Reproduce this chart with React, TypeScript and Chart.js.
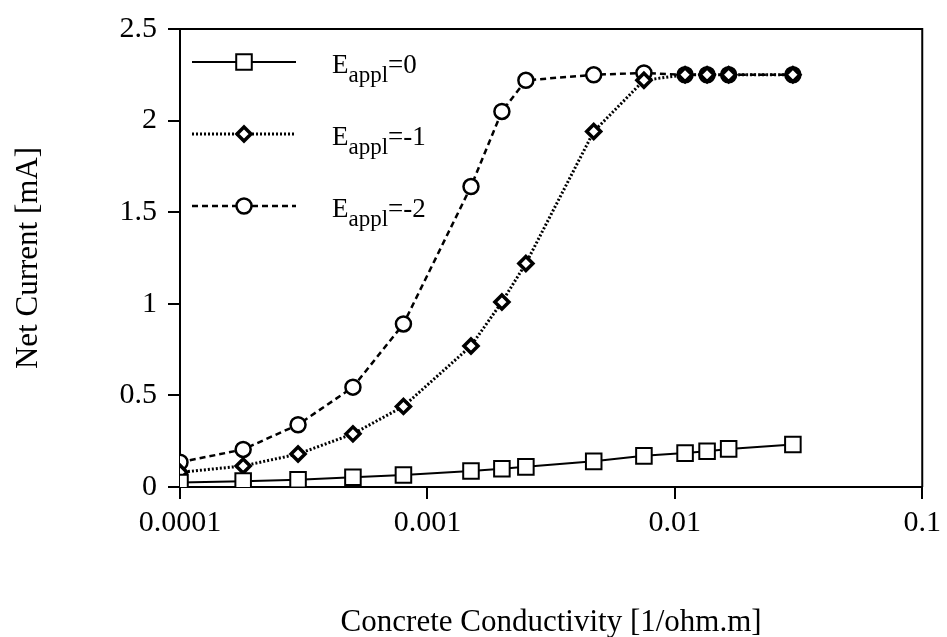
import React, { useEffect, useRef } from 'react';
import { Chart, registerables } from 'chart.js';

Chart.register(...registerables);

// ---- data ----
const conductivity = [0.0001, 0.00018, 0.0003, 0.0005, 0.0008, 0.0015, 0.002, 0.0025, 0.0047, 0.0075, 0.011, 0.0135, 0.0165, 0.03];
const currentE0 = [0.025, 0.032, 0.04, 0.053, 0.065, 0.087, 0.1, 0.11, 0.14, 0.17, 0.185, 0.195, 0.208, 0.232];
const currentEm1 = [0.08, 0.115, 0.18, 0.29, 0.44, 0.77, 1.01, 1.22, 1.94, 2.22, 2.25, 2.25, 2.25, 2.25];
const currentEm2 = [0.135, 0.205, 0.34, 0.545, 0.89, 1.64, 2.05, 2.22, 2.25, 2.26, 2.25, 2.25, 2.25, 2.25];

const xTickValues = [0.0001, 0.001, 0.01, 0.1];
const xTickLabels = ['0.0001', '0.001', '0.01', '0.1'];
const yTickValues = [0, 0.5, 1, 1.5, 2, 2.5];
const yTickLabels = ['0', '0.5', '1', '1.5', '2', '2.5'];

const legendMain = 'E';
const legendSub = 'appl';
const legendValues = ['=0', '=-1', '=-2'];

const xTitle = 'Concrete Conductivity [1/ohm.m]';
const yTitle = 'Net Current [mA]';

const SERIF = '"Liberation Serif", "Times New Roman", serif';

function drawMarker(ctx: CanvasRenderingContext2D, style: string, x: number, y: number, r: number, bw: number) {
  ctx.beginPath();
  if (style === 'rect') {
    const s = r * Math.SQRT1_2;
    ctx.rect(x - s, y - s, 2 * s, 2 * s);
  } else if (style === 'rectRot') {
    ctx.moveTo(x, y - r);
    ctx.lineTo(x + r, y);
    ctx.lineTo(x, y + r);
    ctx.lineTo(x - r, y);
    ctx.closePath();
  } else {
    ctx.arc(x, y, r, 0, Math.PI * 2);
  }
  ctx.fillStyle = '#fff';
  ctx.fill();
  ctx.lineWidth = bw;
  ctx.strokeStyle = '#000';
  ctx.stroke();
}

const framePlugin = {
  id: 'frame',
  afterDatasetsDraw(chart: any) {
    const { ctx, chartArea: a } = chart;
    ctx.save();
    ctx.strokeStyle = '#000';
    ctx.lineWidth = 2;
    ctx.beginPath();
    ctx.moveTo(a.left, a.top);
    ctx.lineTo(a.right, a.top);
    ctx.lineTo(a.right, a.bottom);
    ctx.stroke();
    ctx.restore();
  },
};

const legendPlugin = {
  id: 'insetLegend',
  afterDraw(chart: any) {
    const { ctx, chartArea: a } = chart;
    chart.data.datasets.forEach((ds: any, i: number) => {
      const y = a.top + 33 + i * 72;
      const x1 = a.left + 12;
      const x2 = a.left + 116;
      const xm = (x1 + x2) / 2;
      ctx.save();
      ctx.strokeStyle = '#000';
      ctx.lineWidth = ds.borderWidth;
      ctx.lineCap = 'butt';
      ctx.setLineDash(ds.borderDash || []);
      ctx.beginPath();
      ctx.moveTo(x1, y);
      ctx.lineTo(x2, y);
      ctx.stroke();
      ctx.setLineDash([]);
      drawMarker(ctx, ds.pointStyle, xm, y, ds.pointRadius, ds.pointBorderWidth);
      ctx.fillStyle = '#000';
      ctx.textBaseline = 'alphabetic';
      ctx.textAlign = 'left';
      let tx = a.left + 152;
      const by = y + 11;
      ctx.font = `27px ${SERIF}`;
      ctx.fillText(legendMain, tx, by);
      tx += ctx.measureText(legendMain).width;
      ctx.font = `23px ${SERIF}`;
      ctx.fillText(legendSub, tx, by + 9);
      tx += ctx.measureText(legendSub).width;
      ctx.font = `27px ${SERIF}`;
      ctx.fillText(legendValues[i], tx, by);
      ctx.restore();
    });
  },
};

export default function App() {
  const ref = useRef<HTMLCanvasElement>(null);

  useEffect(() => {
    const canvas = ref.current;
    if (!canvas) return;
    const toPts = (ys: number[]) => conductivity.map((x, i) => ({ x, y: ys[i] }));

    const tickFont = { family: SERIF, size: 30 };
    const titleFont = { family: SERIF, size: 31, lineHeight: 1 };
    const gridOpts = { drawOnChartArea: false, drawTicks: true, tickLength: 12, color: '#000', lineWidth: 2 };

    const chart = new Chart(canvas, {
      type: 'line',
      data: {
        datasets: [
          {
            label: 'E0',
            data: toPts(currentE0),
            borderColor: '#000',
            borderWidth: 2,
            borderDash: [],
            pointStyle: 'rect',
            pointRadius: 11,
            pointBorderWidth: 2,
            pointBackgroundColor: '#fff',
            pointBorderColor: '#000',
            tension: 0,
          },
          {
            label: 'E-1',
            data: toPts(currentEm1),
            borderColor: '#000',
            borderWidth: 3,
            borderDash: [2, 2],
            pointStyle: 'rectRot',
            pointRadius: 7,
            pointBorderWidth: 3.5,
            pointBackgroundColor: '#fff',
            pointBorderColor: '#000',
            tension: 0,
          },
          {
            label: 'E-2',
            data: toPts(currentEm2),
            borderColor: '#000',
            borderWidth: 2.5,
            borderDash: [6, 4],
            pointStyle: 'circle',
            pointRadius: 7.5,
            pointBorderWidth: 2.5,
            pointBackgroundColor: '#fff',
            pointBorderColor: '#000',
            tension: 0,
          },
        ] as any,
      },
      options: {
        responsive: false,
        animation: false,
        devicePixelRatio: 1,
        layout: { autoPadding: false, padding: { top: 24, right: 23, left: 0, bottom: 0 } },
        plugins: {
          legend: { display: false },
          tooltip: { enabled: false },
        },
        scales: {
          x: {
            type: 'logarithmic',
            min: 0.0001,
            max: 0.1,
            afterBuildTicks: (s: any) => {
              s.ticks = xTickValues.map((v) => ({ value: v }));
            },
            afterFit: (s: any) => {
              s.height = 150;
            },
            ticks: {
              callback: (_v: any, i: number) => xTickLabels[i],
              font: tickFont,
              color: '#000',
              padding: 6,
              maxRotation: 0,
              autoSkip: false,
            },
            grid: gridOpts,
            border: { display: true, color: '#000', width: 2 },
            title: {
              display: true,
              text: xTitle,
              font: titleFont,
              color: '#000',
              padding: { top: 0, bottom: -1 },
            },
          },
          y: {
            type: 'linear',
            min: 0,
            max: 2.5,
            afterBuildTicks: (s: any) => {
              s.ticks = yTickValues.map((v) => ({ value: v }));
            },
            afterFit: (s: any) => {
              s.width = 180;
            },
            ticks: {
              callback: (_v: any, i: number) => yTickLabels[i],
              font: tickFont,
              color: '#000',
              padding: 11,
              autoSkip: false,
            },
            grid: gridOpts,
            border: { display: true, color: '#000', width: 2 },
            title: {
              display: true,
              text: yTitle,
              font: titleFont,
              color: '#000',
              padding: { top: 13, bottom: 0 },
            },
          },
        },
      } as any,
      plugins: [framePlugin, legendPlugin],
    });

    return () => chart.destroy();
  }, []);

  return (
    <div style={{ position: 'fixed', left: 0, top: 0, width: 947, height: 637, background: '#fff' }}>
      <canvas ref={ref} width={947} height={637} style={{ display: 'block' }} />
    </div>
  );
}
